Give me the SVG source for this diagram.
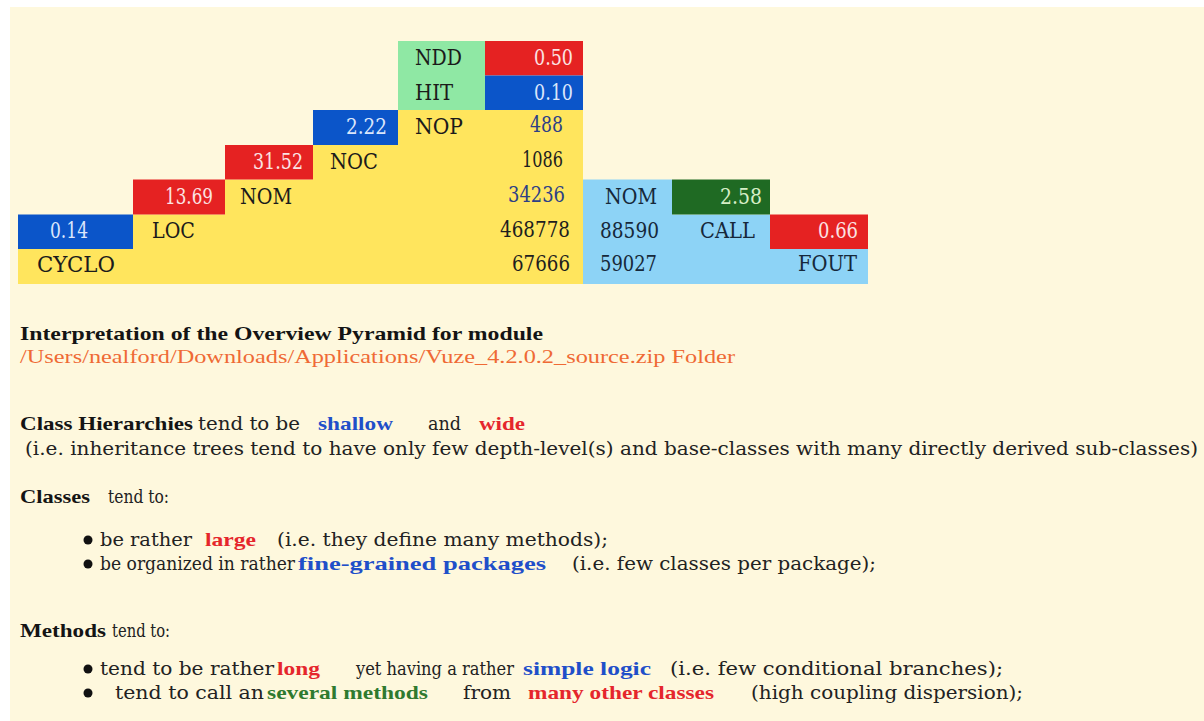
<svg xmlns="http://www.w3.org/2000/svg" width="1204" height="721" viewBox="0 0 1204 721">
  <style>
    .cell { font-family: "DejaVu Serif", "Liberation Serif", serif; font-size: 23px; }
    .lbl { fill: #1b1b1b; }
    .lbl-b { fill: #16283a; }
    .num { fill: #1e1e1e; }
    .num-b { fill: #2d3f86; }
    .on-red { fill: #fbe3e3; }
    .on-blue { fill: #dbe6fb; }
    .on-green { fill: #d6eec6; }
    .mono { font-family: "DejaVu Serif", "Liberation Serif", serif; font-size: 18px; fill: #222; }
    .bold { font-family: "Liberation Serif", "Times New Roman", serif; font-weight: bold; font-size: 19px; }
    .k { fill: #141414; }
    .blue { fill: #1f4fc9; }
    .red { fill: #e5262c; }
    .green { fill: #2f7a2f; }
    .path { font-family: "Liberation Serif", "Times New Roman", serif; font-size: 19px; fill: #ef6a35; }
  </style>

  <!-- page -->
  <rect x="0" y="0" width="1204" height="721" fill="#ffffff"/>
  <rect x="10" y="7" width="1194" height="714" fill="#fef8dd"/>

  <!-- pyramid body -->
  <g id="pyramid">
    <polygon points="398,110 583,110 583,284 18,284 18,249 133,249 133,214.5 225,214.5 225,179.5 313,179.5 313,145 398,145" fill="#ffe55d"/>
    <polygon points="583,179.5 672,179.5 672,214.5 770,214.5 770,249 868,249 868,284 583,284" fill="#8dd3f6"/>
    <rect x="398" y="41" width="87" height="69" fill="#8fe8a4"/>
  </g>

  <!-- inheritance -->
  <g id="node-ndd">
    <text class="cell lbl" x="415" y="65" textLength="47" lengthAdjust="spacingAndGlyphs">NDD</text>
    <rect x="485" y="41" width="98" height="34.5" fill="#e52222"/>
    <text class="cell on-red" x="534" y="65" textLength="39" lengthAdjust="spacingAndGlyphs">0.50</text>
  </g>
  <g id="node-hit">
    <text class="cell lbl" x="415" y="99.5" textLength="38" lengthAdjust="spacingAndGlyphs">HIT</text>
    <rect x="485" y="75.5" width="98" height="34.5" fill="#0b55c9"/>
    <text class="cell on-blue" x="534" y="99.5" textLength="39" lengthAdjust="spacingAndGlyphs">0.10</text>
  </g>

  <!-- size and complexity -->
  <g id="node-nop">
    <rect x="313" y="110" width="85" height="35" fill="#0b55c9"/>
    <text class="cell on-blue" x="346" y="134" textLength="41" lengthAdjust="spacingAndGlyphs">2.22</text>
    <text class="cell lbl" x="415" y="134" textLength="48" lengthAdjust="spacingAndGlyphs">NOP</text>
    <text class="cell num-b" x="530" y="132" textLength="33" lengthAdjust="spacingAndGlyphs">488</text>
  </g>
  <g id="node-noc">
    <rect x="225" y="145" width="88" height="34.5" fill="#e52222"/>
    <text class="cell on-red" x="253" y="169" textLength="50" lengthAdjust="spacingAndGlyphs">31.52</text>
    <text class="cell lbl" x="330" y="169" textLength="48" lengthAdjust="spacingAndGlyphs">NOC</text>
    <text class="cell num" x="522" y="167" textLength="41" lengthAdjust="spacingAndGlyphs">1086</text>
  </g>
  <g id="node-nom">
    <rect x="133" y="179.5" width="92" height="35" fill="#e52222"/>
    <text class="cell on-red" x="165" y="203.5" textLength="48" lengthAdjust="spacingAndGlyphs">13.69</text>
    <text class="cell lbl" x="240" y="203.5" textLength="52" lengthAdjust="spacingAndGlyphs">NOM</text>
    <text class="cell num-b" x="508" y="202" textLength="57" lengthAdjust="spacingAndGlyphs">34236</text>
  </g>
  <g id="node-loc">
    <rect x="18" y="214.5" width="115" height="34.5" fill="#0b55c9"/>
    <text class="cell on-blue" x="50" y="238" textLength="38" lengthAdjust="spacingAndGlyphs">0.14</text>
    <text class="cell lbl" x="152" y="238" textLength="43" lengthAdjust="spacingAndGlyphs">LOC</text>
    <text class="cell num" x="500" y="237" textLength="70" lengthAdjust="spacingAndGlyphs">468778</text>
  </g>
  <g id="node-cyclo">
    <text class="cell lbl" x="37" y="272" textLength="78" lengthAdjust="spacingAndGlyphs">CYCLO</text>
    <text class="cell num" x="512" y="271" textLength="58" lengthAdjust="spacingAndGlyphs">67666</text>
  </g>

  <!-- coupling -->
  <g id="node-nom-coupling">
    <text class="cell lbl-b" x="605" y="203.5" textLength="52" lengthAdjust="spacingAndGlyphs">NOM</text>
    <rect x="672" y="179.5" width="98" height="35" fill="#1f6a23"/>
    <text class="cell on-green" x="720" y="203.5" textLength="42" lengthAdjust="spacingAndGlyphs">2.58</text>
  </g>
  <g id="node-call">
    <text class="cell lbl-b" x="600" y="238" textLength="59" lengthAdjust="spacingAndGlyphs">88590</text>
    <text class="cell lbl-b" x="700" y="238" textLength="55" lengthAdjust="spacingAndGlyphs">CALL</text>
    <rect x="770" y="214.5" width="98" height="34.5" fill="#e52222"/>
    <text class="cell on-red" x="818" y="238" textLength="40" lengthAdjust="spacingAndGlyphs">0.66</text>
  </g>
  <g id="node-fout">
    <text class="cell lbl-b" x="600" y="271" textLength="57" lengthAdjust="spacingAndGlyphs">59027</text>
    <text class="cell lbl-b" x="798" y="271" textLength="59" lengthAdjust="spacingAndGlyphs">FOUT</text>
  </g>

  <!-- no connectors in this figure -->
  <g id="connectors"/>

  <!-- interpretation -->
  <g id="interpretation">
    <text class="bold k" x="20" y="340" textLength="523" lengthAdjust="spacingAndGlyphs">Interpretation of the Overview Pyramid for module</text>
    <text class="path" x="20" y="363" textLength="715" lengthAdjust="spacingAndGlyphs">/Users/nealford/Downloads/Applications/Vuze_4.2.0.2_source.zip Folder</text>

    <text class="bold k" x="20" y="430" textLength="173" lengthAdjust="spacingAndGlyphs">Class Hierarchies</text>
    <text class="mono" x="198" y="430" textLength="102" lengthAdjust="spacingAndGlyphs">tend to be</text>
    <text class="bold blue" x="318" y="430" textLength="75" lengthAdjust="spacingAndGlyphs">shallow</text>
    <text class="mono" x="428" y="430" textLength="33" lengthAdjust="spacingAndGlyphs">and</text>
    <text class="bold red" x="479" y="430" textLength="46" lengthAdjust="spacingAndGlyphs">wide</text>
    <text class="mono" x="25" y="455" textLength="1173" lengthAdjust="spacingAndGlyphs">(i.e. inheritance trees tend to have  only few depth-level(s) and base-classes with many directly derived sub-classes)</text>

    <text class="bold k" x="20" y="503" textLength="70" lengthAdjust="spacingAndGlyphs">Classes</text>
    <text class="mono" x="108" y="503" textLength="61" lengthAdjust="spacingAndGlyphs">tend to:</text>

    <circle cx="88" cy="540" r="4.5" fill="#111"/>
    <text class="mono" x="100" y="546" textLength="92" lengthAdjust="spacingAndGlyphs">be rather</text>
    <text class="bold red" x="205" y="546" textLength="51" lengthAdjust="spacingAndGlyphs">large</text>
    <text class="mono" x="277" y="546" textLength="331" lengthAdjust="spacingAndGlyphs">(i.e. they define many methods);</text>

    <circle cx="88" cy="564" r="4.5" fill="#111"/>
    <text class="mono" x="100" y="570" textLength="195" lengthAdjust="spacingAndGlyphs">be organized in rather</text>
    <text class="bold blue" x="298" y="570" textLength="248" lengthAdjust="spacingAndGlyphs">fine-grained packages</text>
    <text class="mono" x="572" y="570" textLength="304" lengthAdjust="spacingAndGlyphs">(i.e. few classes per package);</text>

    <text class="bold k" x="20" y="637" textLength="86" lengthAdjust="spacingAndGlyphs">Methods</text>
    <text class="mono" x="112" y="637" textLength="58" lengthAdjust="spacingAndGlyphs">tend to:</text>

    <circle cx="88" cy="669" r="4.5" fill="#111"/>
    <text class="mono" x="100" y="675" textLength="174" lengthAdjust="spacingAndGlyphs">tend to be rather</text>
    <text class="bold red" x="277" y="675" textLength="43" lengthAdjust="spacingAndGlyphs">long</text>
    <text class="mono" x="356" y="675" textLength="158" lengthAdjust="spacingAndGlyphs">yet having a rather</text>
    <text class="bold blue" x="523" y="675" textLength="128" lengthAdjust="spacingAndGlyphs">simple logic</text>
    <text class="mono" x="670" y="675" textLength="333" lengthAdjust="spacingAndGlyphs">(i.e. few conditional branches);</text>

    <circle cx="88" cy="693" r="4.5" fill="#111"/>
    <text class="mono" x="115" y="699" textLength="149" lengthAdjust="spacingAndGlyphs">tend to call an</text>
    <text class="bold green" x="267" y="699" textLength="161" lengthAdjust="spacingAndGlyphs">several methods</text>
    <text class="mono" x="463" y="699" textLength="48" lengthAdjust="spacingAndGlyphs">from</text>
    <text class="bold red" x="528" y="699" textLength="186" lengthAdjust="spacingAndGlyphs">many other classes</text>
    <text class="mono" x="751" y="699" textLength="272" lengthAdjust="spacingAndGlyphs">(high coupling dispersion);</text>
  </g>
</svg>
